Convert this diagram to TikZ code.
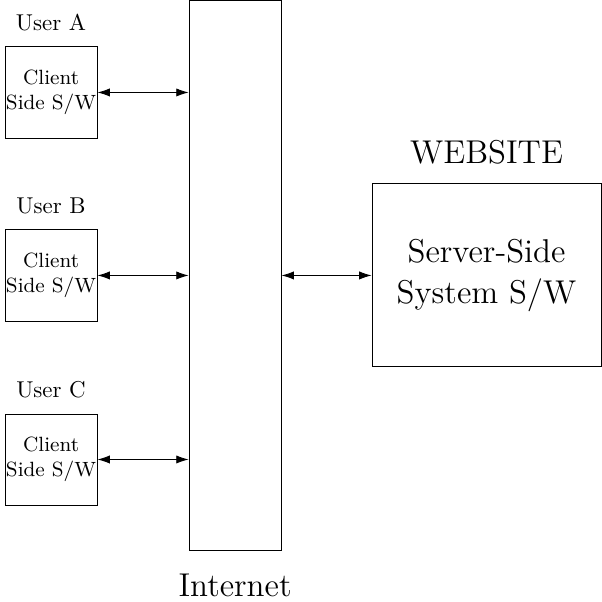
\documentclass[tikz,border=0pt]{standalone}
\usepackage{tikz}
\usetikzlibrary{positioning,calc,arrows.meta}
\usepackage{amsmath}

\begin{document}
\begin{tikzpicture}[>={Latex[length=5.4pt,width=3.6pt]},
		client/.style={draw, minimum width=1.411cm, minimum height=1.397cm, align=center, font=\small, inner xsep=0pt},
		big/.style={font=\Large}]
								\useasboundingbox (0,0) rectangle (9.223,-9.238);

								\node[draw, minimum width=1.411cm, minimum height=8.44cm] (inet) at (3.607,-4.227) {};
								\node[big, below=6.4pt of inet] (inetl) {Internet};

								\node[client] (ca) at (0.783,-1.419) {Client\\Side S/W};
								\node[client] (cb) at (0.783,-4.227) {Client\\Side S/W};
								\node[client] (cc) at (0.783,-7.051) {Client\\Side S/W};

								\node[above=3.3pt of ca] (ua) {User A};
								\node[above=3.3pt of cb] (ub) {User B};
								\node[above=3.3pt of cc] (uc) {User C};

								\node[draw, big, align=center, minimum width=3.514cm, minimum height=2.808cm] (web) at (7.466,-4.227) {Server-Side\\System S/W};
								\node[big, above=5pt of web] (webl) {WEBSITE};

								\draw[<->] (ca.east) to (ca.east -| inet.west);
								\draw[<->] (cb.east) to (cb.east -| inet.west);
								\draw[<->] (cc.east) to (cc.east -| inet.west);
								\draw[<->] (inet.east) to (web.west);

							\end{tikzpicture}
\end{document}
